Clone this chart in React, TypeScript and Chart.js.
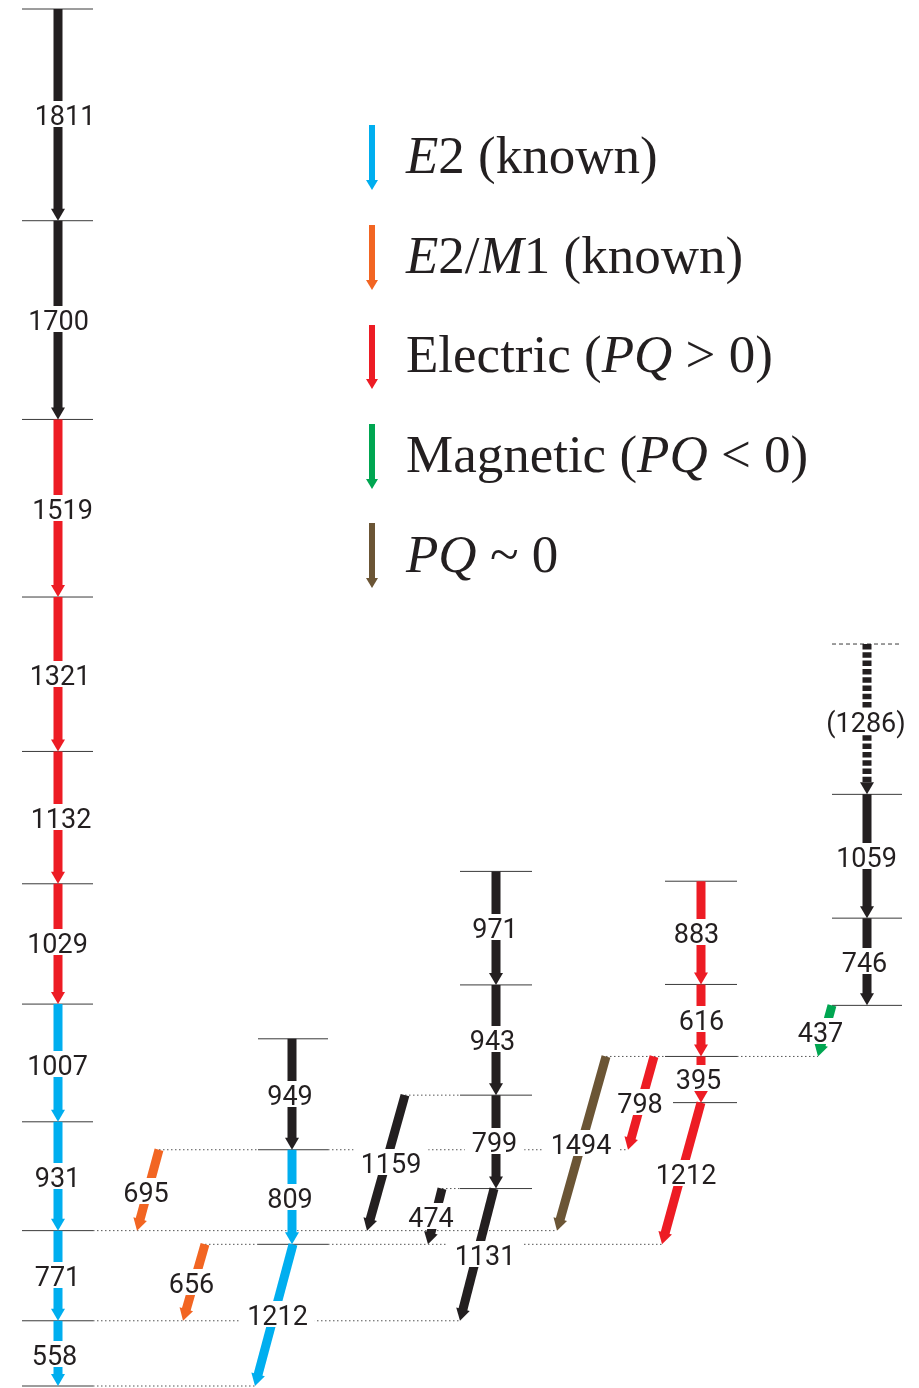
import React, { useEffect, useRef } from "react";
import { Chart, registerables } from "chart.js";

Chart.register(...registerables);

// ---------------- DATA ----------------
// Level energies (keV, relative to the lowest level shown), one array per band
const bandA = [0, 558, 1329, 2260, 3267, 4296, 5428, 6749, 8268, 9968, 11779];
const bandB = [1212, 2021, 2970];
const bandC = [1689, 2488, 3431, 4402];
const bandD = [2424, 2819, 3435, 4318];
const bandE = [3256, 4002, 5061, 6347];

// Gamma transitions: label, initial level, final level, character
const gammaLabels = [
  "1811", "1700", "1519", "1321", "1132", "1029", "1007", "931", "771", "558",
  "949", "809", "1212", "695", "656",
  "971", "943", "799", "1131", "1159", "474",
  "883", "616", "395", "1212", "798", "1494",
  "437", "(1286)", "1059", "746",
];
const gammaFrom = [
  11779, 9968, 8268, 6749, 5428, 4296, 3267, 2260, 1329, 558,
  2970, 2021, 1212, 2021, 1212,
  4402, 3431, 2488, 1689, 2488, 1689,
  4318, 3435, 2819, 2424, 2819, 2819,
  3256, 6347, 5061, 4002,
];
const gammaTo = [
  9968, 8268, 6749, 5428, 4296, 3267, 2260, 1329, 558, 0,
  2021, 1212, 0, 1329, 558,
  3431, 2488, 1689, 558, 1329, 1212,
  3435, 2819, 2424, 1212, 2021, 1329,
  2819, 5061, 4002, 3256,
];
const gammaType = [
  "unk", "unk", "E", "E", "E", "E", "E2", "E2", "E2", "E2",
  "unk", "E2", "E2", "E2M1", "E2M1",
  "unk", "unk", "unk", "unk", "unk", "unk",
  "E", "E", "E", "E", "E", "PQ0",
  "M", "unk", "unk", "unk",
];
const gammaTentative = [
  false, false, false, false, false, false, false, false, false, false,
  false, false, false, false, false,
  false, false, false, false, false, false,
  false, false, false, false, false, false,
  false, true, false, false,
];

// Legend entries
const legendTypes = ["E2", "E2M1", "E", "M", "PQ0"];
const legendTexts: [string, boolean][][] = [
  [["E", true], ["2 (known)", false]],
  [["E", true], ["2/", false], ["M", true], ["1 (known)", false]],
  [["Electric (", false], ["PQ", true], [" > 0)", false]],
  [["Magnetic (", false], ["PQ", true], [" < 0)", false]],
  [["PQ", true], [" ~ 0", false]],
];

// Dotted guide lines at level energies
const guideEnergies = [0, 558, 1329, 1212, 1212, 2021, 2021, 2488, 1689, 2819, 2819];

// ---------------- LAYOUT / STYLE ----------------
const W = 919;
const H = 1388;
const Y_MIN = -17.1;
const Y_MAX = 11856;
const K = H / (Y_MAX - Y_MIN); // px per keV

const COLORS: Record<string, string> = {
  unk: "#231F20",
  E2: "#00AEEF",
  E2M1: "#F26522",
  E: "#ED1C24",
  M: "#00A651",
  PQ0: "#6B5535",
};

const bandExtent: [number[], number, number][] = [
  [bandA, 22, 93],
  [bandB, 258, 328],
  [bandC, 460, 532],
  [bandD, 665, 737],
  [bandE, 832, 902],
];
const levelStartOverride: Record<string, number> = { "D:2424": 673 };

// arrow x: start, end ; label centre x,y (px)
const gammaX0 = [
  58, 58, 58, 58, 58, 58, 58, 58, 58, 58,
  292, 292, 293, 159, 205,
  496, 496, 496, 494, 405, 442,
  701, 701, 701, 701, 654, 606,
  832, 867, 867, 867,
];
const gammaX1 = [
  58, 58, 58, 58, 58, 58, 58, 58, 58, 58,
  292, 292, 255, 137, 183,
  496, 496, 496, 460, 367, 428,
  701, 701, 701, 662, 628, 557,
  818, 867, 867, 867,
];
const labelX = [
  65, 58.5, 62.5, 60, 61, 57.5, 57.5, 57.5, 57.5, 54.5,
  290, 290, 277.5, 146, 191.5,
  495, 492.5, 494.5, 485, 391, 431,
  696.5, 701.5, 698.5, 686, 640, 581,
  820.5, 866, 866.5, 864.5,
];
const labelY = [
  115, 320, 509, 675, 818, 943, 1065, 1177, 1276, 1355,
  1095, 1198, 1315, 1192, 1283,
  928, 1040, 1142, 1255, 1163, 1217,
  933, 1020, 1079, 1174, 1103, 1144,
  1032, 722, 857, 962,
];
const guideX0 = [93, 93, 93, 205, 328, 159, 328, 405, 442, 606, 737];
const guideX1 = [255, 460, 557, 258, 662, 258, 628, 460, 460, 665, 818];

const SHAFT_W = 9;
const HEAD_L = 12;
const HEAD_W = 14;
const LABEL_FONT = '400 27px Roboto, "Noto Sans", sans-serif';
const LEGEND_FONT_SIZE = 53;
const LEGEND_X_ARROW = 372;
const LEGEND_X_TEXT = 406;
const LEGEND_TOP = [125, 225, 325, 424, 523];
const LEGEND_TIP = [190, 290, 389, 489, 588];
const LEGEND_BASE = [173, 273, 372, 472, 572];

function arrowBase(x0: number, e0: number, x1: number, e1: number, L: number) {
  const dx = x1 - x0;
  const dy = (e0 - e1) * K;
  const len = Math.hypot(dx, dy);
  const ux = dx / len;
  const uy = dy / len;
  return { x: x1 - ux * L, y: e1 + (uy * L) / K };
}

function drawHead(ctx: CanvasRenderingContext2D, sx: number, sy: number, tx: number, ty: number, L: number, Wd: number, color: string) {
  const dx = tx - sx;
  const dy = ty - sy;
  const len = Math.hypot(dx, dy);
  const ux = dx / len;
  const uy = dy / len;
  const bx = tx - ux * L;
  const by = ty - uy * L;
  const px = -uy;
  const py = ux;
  ctx.beginPath();
  ctx.moveTo(tx, ty);
  ctx.lineTo(bx + (px * Wd) / 2, by + (py * Wd) / 2);
  ctx.lineTo(bx - (px * Wd) / 2, by - (py * Wd) / 2);
  ctx.closePath();
  ctx.fillStyle = color;
  ctx.fill();
}

const schemePlugin = {
  id: "schemeDecor",
  afterDatasetsDraw(chart: any) {
    const ctx: CanvasRenderingContext2D = chart.ctx;
    const xs = chart.scales.x;
    const ys = chart.scales.y;
    ctx.save();
    // arrow heads
    for (let i = 0; i < gammaLabels.length; i++) {
      const sx = xs.getPixelForValue(gammaX0[i]);
      const sy = ys.getPixelForValue(gammaFrom[i]);
      const tx = xs.getPixelForValue(gammaX1[i]);
      const ty = ys.getPixelForValue(gammaTo[i]);
      drawHead(ctx, sx, sy, tx, ty, HEAD_L, HEAD_W, COLORS[gammaType[i]]);
    }
    // labels with white masks
    ctx.font = LABEL_FONT;
    ctx.textAlign = "center";
    ctx.textBaseline = "alphabetic";
    for (let i = 0; i < gammaLabels.length; i++) {
      const w = ctx.measureText(gammaLabels[i]).width;
      const cx = labelX[i];
      const cy = labelY[i];
      ctx.fillStyle = "#ffffff";
      ctx.fillRect(cx - w / 2 - 7, cy - 14, w + 14, 26);
      ctx.fillStyle = "#231F20";
      ctx.fillText(gammaLabels[i], cx, cy + 10);
    }
    // legend
    for (let i = 0; i < legendTypes.length; i++) {
      const color = COLORS[legendTypes[i]];
      const top = LEGEND_TOP[i];
      const tip = LEGEND_TIP[i];
      ctx.fillStyle = color;
      ctx.fillRect(LEGEND_X_ARROW - 3, top, 6, tip - top - 9);
      drawHead(ctx, LEGEND_X_ARROW, top, LEGEND_X_ARROW, tip, 10, 12, color);
      let x = LEGEND_X_TEXT;
      ctx.textAlign = "left";
      ctx.fillStyle = "#231F20";
      for (const [txt, ital] of legendTexts[i]) {
        ctx.font = (ital ? "italic " : "") + LEGEND_FONT_SIZE + 'px "Liberation Serif", "Times New Roman", serif';
        ctx.fillText(txt, x, LEGEND_BASE[i]);
        x += ctx.measureText(txt).width;
      }
    }
    ctx.restore();
  },
};

export default function App() {
  const ref = useRef<HTMLCanvasElement | null>(null);
  useEffect(() => {
    if (!ref.current) return;
    const datasets: any[] = [];
    // levels
    const bandNames = ["A", "B", "C", "D", "E"];
    bandExtent.forEach(([energies, x0, x1], bi) => {
      energies.forEach((e) => {
        const key = bandNames[bi] + ":" + e;
        const start = levelStartOverride[key] ?? x0;
        const dashed = bi === 4 && e === 6347;
        datasets.push({
          data: [{ x: start, y: e }, { x: x1, y: e }],
          borderColor: "#3a3a3a",
          borderWidth: 1,
          borderDash: dashed ? [4, 3] : [],
          pointRadius: 0,
          order: 3,
        });
      });
    });
    // dotted guides
    guideEnergies.forEach((e, i) => {
      datasets.push({
        data: [{ x: guideX0[i], y: e }, { x: guideX1[i], y: e }],
        borderColor: "#555555",
        borderWidth: 1,
        borderDash: [1.5, 2.5],
        pointRadius: 0,
        order: 3,
      });
    });
    // transition shafts
    gammaLabels.forEach((_, i) => {
      const b = arrowBase(gammaX0[i], gammaFrom[i], gammaX1[i], gammaTo[i], HEAD_L - 1);
      datasets.push({
        data: [{ x: gammaX0[i], y: gammaFrom[i] }, { x: b.x, y: b.y }],
        borderColor: COLORS[gammaType[i]],
        borderWidth: SHAFT_W,
        borderDash: gammaTentative[i] ? [5.5, 2.8] : [],
        borderCapStyle: "butt",
        pointRadius: 0,
        order: 1,
      });
    });

    const chart = new Chart(ref.current, {
      type: "line",
      data: { datasets },
      options: {
        animation: false,
        responsive: false,
        maintainAspectRatio: false,
        devicePixelRatio: 1,
        events: [],
        layout: { padding: 0 },
        elements: { line: { tension: 0, fill: false } },
        plugins: { legend: { display: false }, tooltip: { enabled: false } },
        scales: {
          x: { type: "linear", min: 0, max: W, display: false },
          y: { type: "linear", min: Y_MIN, max: Y_MAX, display: false },
        },
      },
      plugins: [schemePlugin],
    });
    return () => chart.destroy();
  }, []);

  return (
    <div style={{ position: "absolute", left: 0, top: 0, width: W, height: H, background: "#fff" }}>
      <canvas ref={ref} width={W} height={H} style={{ display: "block", width: W, height: H }} />
    </div>
  );
}
